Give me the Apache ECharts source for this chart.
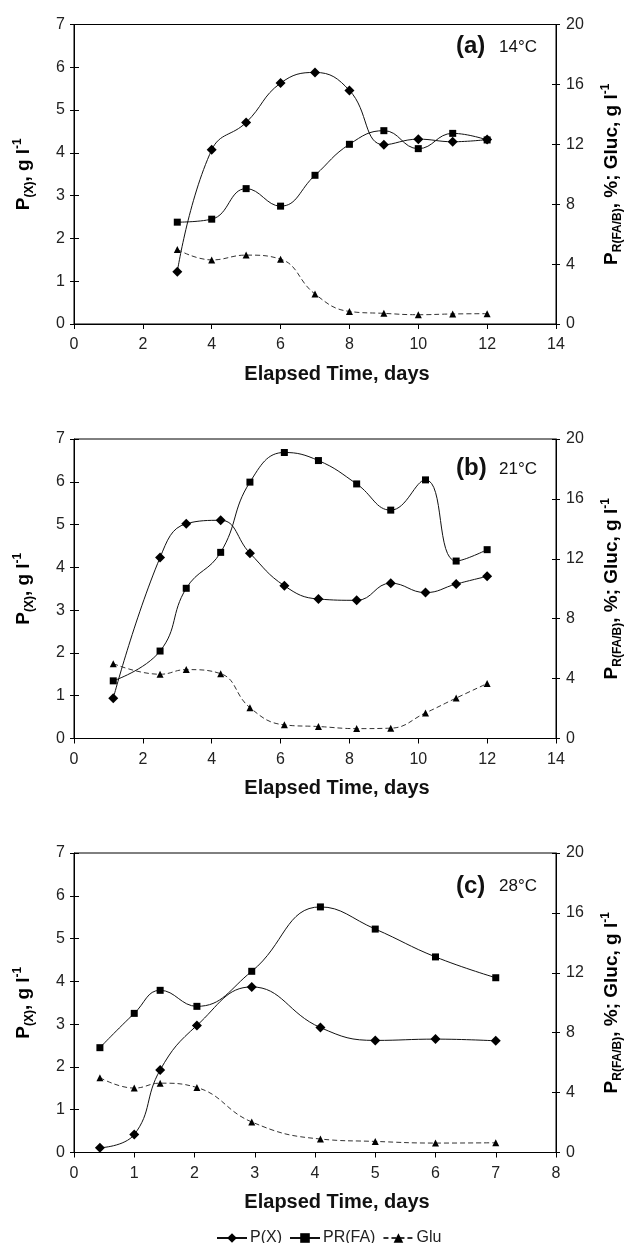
<!DOCTYPE html>
<html>
<head>
<meta charset="utf-8">
<script src="https://cdn.jsdelivr.net/npm/echarts@6/dist/echarts.min.js"></script>
<style>
  html, body { margin: 0; padding: 0; background: #fff; }
  #chart { width: 627px; height: 1243px; }
</style>
</head>
<body>
<div id="chart"></div>
<script>
// panel (a) 14°C
var daysA = [3, 4, 5, 6, 7, 8, 9, 10, 11, 12];
var pxA = [1.22, 4.07, 4.71, 5.63, 5.88, 5.46, 4.19, 4.32, 4.26, 4.31];
var prA = [6.8, 7.0, 9.04, 7.87, 9.93, 12.0, 12.91, 11.71, 12.73, 12.29];
var gluA = [4.98, 4.28, 4.6, 4.33, 2.0, 0.84, 0.71, 0.62, 0.67, 0.69];

// panel (b) 21°C
var daysB = [1.14, 2.5, 3.26, 4.26, 5.11, 6.11, 7.1, 8.21, 9.2, 10.21, 11.1, 12.0];
var pxB = [0.94, 4.23, 5.02, 5.10, 4.33, 3.57, 3.26, 3.23, 3.63, 3.41, 3.61, 3.79];
var prB = [3.85, 5.84, 10.03, 12.43, 17.12, 19.1, 18.56, 17.0, 15.25, 17.27, 11.85, 12.61];
var gluB = [5.0, 4.29, 4.6, 4.33, 2.06, 0.91, 0.80, 0.66, 0.69, 1.71, 2.7, 3.67];

// panel (c) 28°C
var daysC = [0.43, 1.0, 1.43, 2.04, 2.95, 4.09, 5.0, 6.0, 7.0];
var pxC = [0.11, 0.42, 1.93, 2.97, 3.87, 2.92, 2.62, 2.65, 2.61];
var prC = [7.0, 9.29, 10.83, 9.76, 12.1, 16.4, 14.92, 13.06, 11.67];
var gluC = [5.0, 4.3, 4.63, 4.34, 2.04, 0.90, 0.74, 0.63, 0.65];

var panelLabels = ['(a)', '(b)', '(c)'];
var panelTemps = ['14°C', '21°C', '28°C'];
var xMax = [14, 14, 8];
var xStep = [2, 2, 1];
var seriesNames = ['P(X)', 'PR(FA)', 'Glu'];

var FONT = '"Liberation Sans", Arial, Helvetica, sans-serif';
var panels = [
    {days: daysA, px: pxA, pr: prA, glu: gluA},
    {days: daysB, px: pxB, pr: prB, glu: gluB},
    {days: daysC, px: pxC, pr: prC, glu: gluC}
];
var gridTops = [24.5, 439, 853];
var gridH = 299.5;
var labelY = [48.5, 470.5, 888];

function zip(xs, ys) {
    var out = [];
    for (var i = 0; i < xs.length; i++) {
        out.push([xs[i], ys[i]]);
    }
    return out;
}

var titleRich = {
    b: {fontFamily: FONT, fontSize: 19, fontWeight: 'bold', color: '#000', lineHeight: 24},
    sub: {fontFamily: FONT, fontSize: 12, fontWeight: 'bold', color: '#000', lineHeight: 12, verticalAlign: 'bottom'},
    sup: {fontFamily: FONT, fontSize: 12, fontWeight: 'bold', color: '#000', lineHeight: 12, verticalAlign: 'top'}
};

var grids = [], xAxes = [], yAxes = [], series = [], graphics = [];

for (var p = 0; p < 3; p++) {
    var d = panels[p];
    grids.push({
        left: 74, width: 482, top: gridTops[p], height: gridH,
        containLabel: false, outerBoundsMode: 'none',
        show: true, borderColor: '#000', borderWidth: 1, backgroundColor: 'transparent'
    });
    xAxes.push({
        type: 'value', gridIndex: p, min: 0, max: xMax[p], interval: xStep[p],
        axisLine: {show: true, lineStyle: {color: '#000', width: 1}},
        axisTick: {show: true, length: 5, lineStyle: {color: '#000'}},
        axisLabel: {fontFamily: FONT, fontSize: 16, color: '#222', margin: 13},
        splitLine: {show: false},
        name: 'Elapsed Time, days', nameLocation: 'middle', nameGap: 40,
        nameTextStyle: {fontFamily: FONT, fontSize: 20, fontWeight: 'bold', color: '#111', padding: [0, 0, 0, 44]}
    });
    // left axis
    yAxes.push({
        type: 'value', gridIndex: p, position: 'left', min: 0, max: 7, interval: 1,
        axisLine: {show: true, lineStyle: {color: '#000', width: 1}},
        axisTick: {show: true, length: 4, lineStyle: {color: '#000'}},
        axisLabel: {fontFamily: FONT, fontSize: 16, color: '#222', margin: 9},
        splitLine: {show: false},
        name: '{b|P}{sub|(X)}{b|, g l}{sup|-1}', nameLocation: 'middle', nameRotate: 90, nameGap: 38,
        nameTextStyle: {rich: titleRich}
    });
    // right axis
    yAxes.push({
        type: 'value', gridIndex: p, position: 'right', min: 0, max: 20, interval: 4,
        axisLine: {show: true, lineStyle: {color: '#000', width: 1}},
        axisTick: {show: true, length: 4, lineStyle: {color: '#000'}},
        axisLabel: {fontFamily: FONT, fontSize: 16, color: '#222', margin: 10},
        splitLine: {show: false},
        name: '{b|P}{sub|R(FA/B)}{b|, %; Gluc, g l}{sup|-1}', nameLocation: 'middle', nameRotate: 90, nameGap: 44,
        nameTextStyle: {rich: titleRich}
    });
    // inner halves of the crossing ticks
    yAxes.push({
        type: 'value', gridIndex: p, position: 'left', min: 0, max: 7, interval: 1,
        axisLine: {show: false}, axisLabel: {show: false}, splitLine: {show: false},
        axisTick: {show: true, inside: true, length: 5, lineStyle: {color: '#000'}}
    });
    yAxes.push({
        type: 'value', gridIndex: p, position: 'right', min: 0, max: 20, interval: 4,
        axisLine: {show: false}, axisLabel: {show: false}, splitLine: {show: false},
        axisTick: {show: true, inside: true, length: 4, lineStyle: {color: '#000'}}
    });

    series.push({
        name: seriesNames[0], type: 'line', xAxisIndex: p, yAxisIndex: p * 4,
        data: zip(d.days, d.px), smooth: 0.45,
        symbol: 'diamond', symbolSize: 10,
        itemStyle: {color: '#000'}, lineStyle: {color: '#111', width: 1}
    });
    series.push({
        name: seriesNames[1], type: 'line', xAxisIndex: p, yAxisIndex: p * 4 + 1,
        data: zip(d.days, d.pr), smooth: 0.45,
        symbol: 'rect', symbolSize: 7,
        itemStyle: {color: '#000'}, lineStyle: {color: '#111', width: 1}
    });
    series.push({
        name: seriesNames[2], type: 'line', xAxisIndex: p, yAxisIndex: p * 4 + 1,
        data: zip(d.days, d.glu), smooth: 0.45,
        symbol: 'triangle', symbolSize: 7,
        itemStyle: {color: '#000'}, lineStyle: {color: '#333', width: 1, type: [5, 3]}
    });

    graphics.push({
        type: 'text', left: 456, top: labelY[p] - 14,
        style: {text: panelLabels[p], font: 'bold 24px ' + FONT, fill: '#111'}
    });
    graphics.push({
        type: 'text', left: 499, top: labelY[p] - 10,
        style: {text: panelTemps[p], font: '17px ' + FONT, fill: '#111'}
    });
}

var myChart = echarts.init(document.getElementById('chart'), null, {renderer: 'canvas'});
myChart.setOption({
    animation: false,
    backgroundColor: '#fff',
    grid: grids,
    xAxis: xAxes,
    yAxis: yAxes,
    series: series,
    graphic: graphics,
    legend: {
        data: seriesNames, left: 211, top: 1225,
        itemWidth: 30, itemHeight: 12, itemGap: 7,
        textStyle: {fontFamily: FONT, fontSize: 16, color: '#222', padding: [0, 0, 0, -2]}
    }
});
</script>
</body>
</html>
